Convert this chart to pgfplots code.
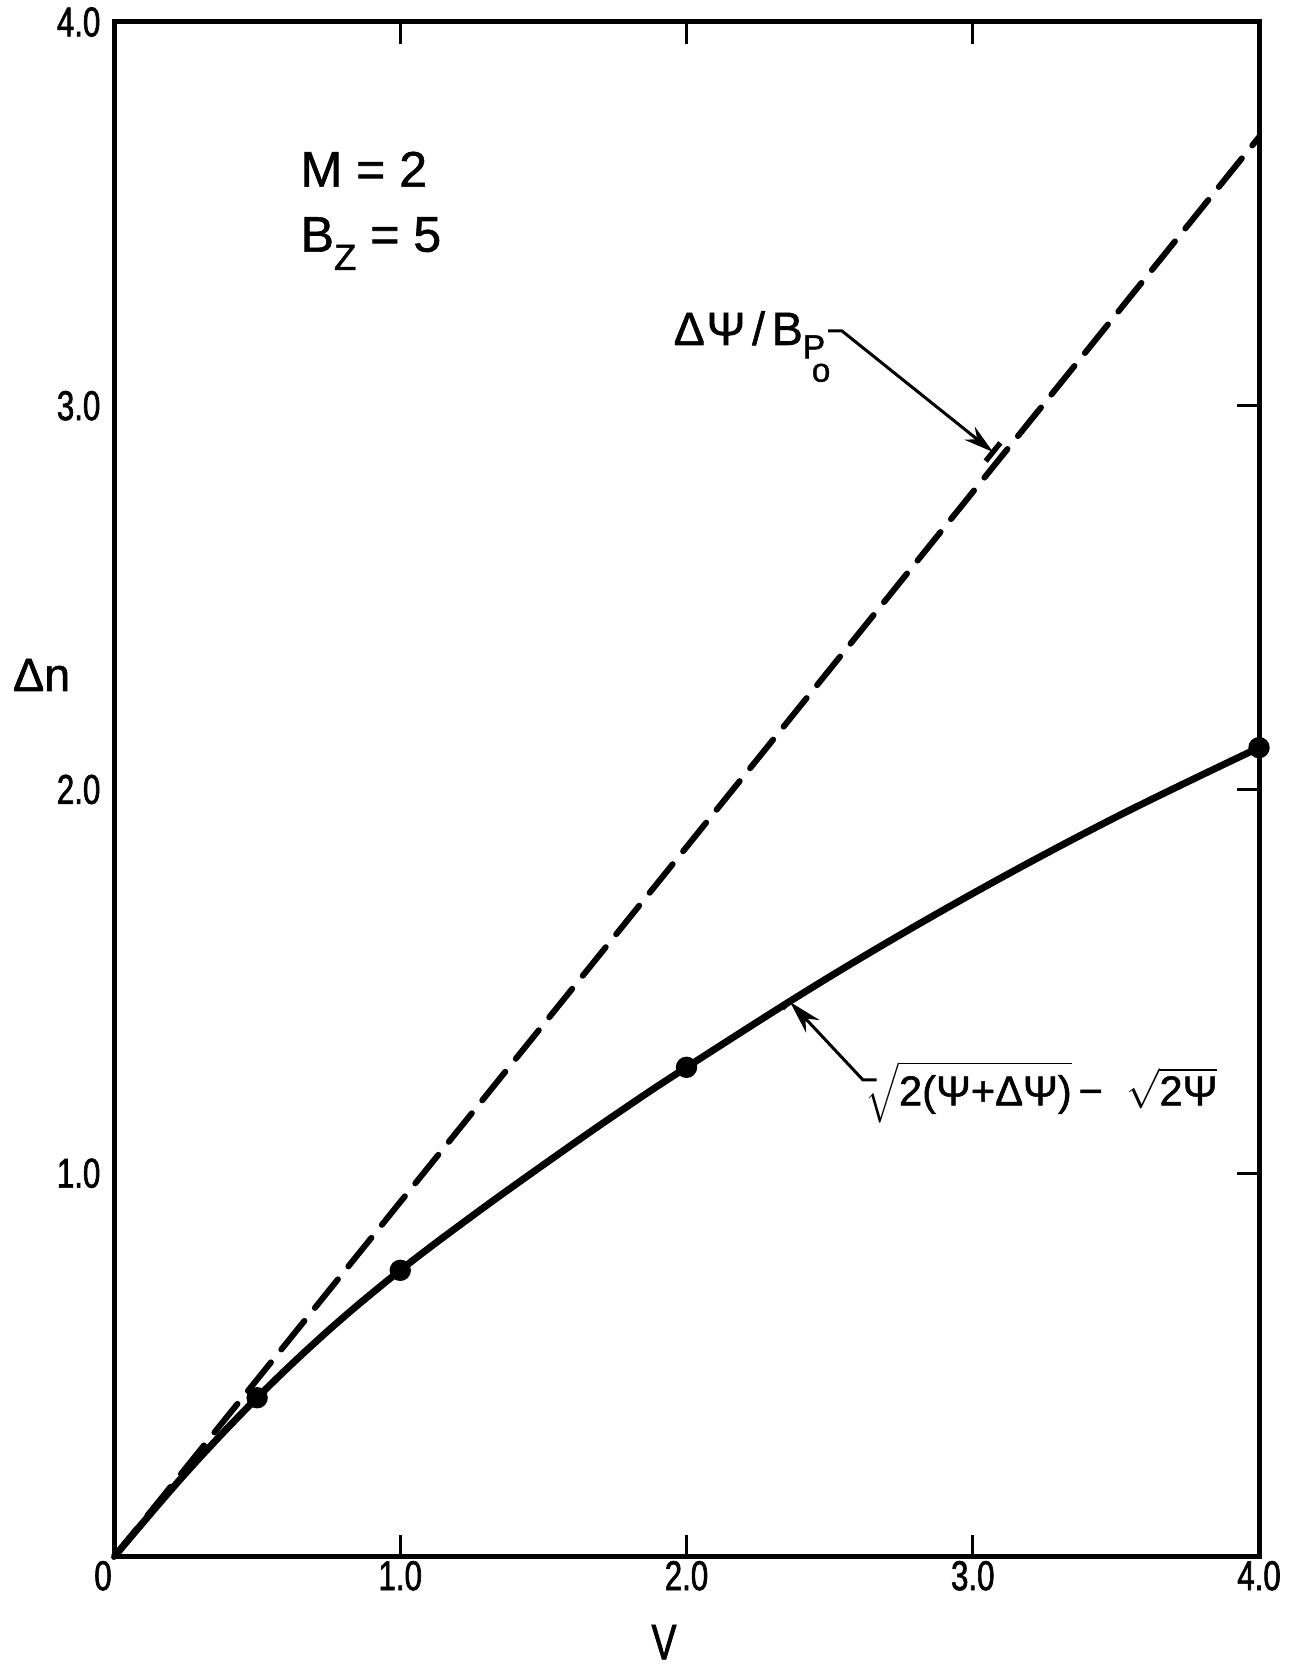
\documentclass[border=0pt]{standalone}
\usepackage{fontspec}
\setmainfont{Liberation Sans}[FakeBold=1.2]
\newfontfamily\narrowfont{Liberation Sans}[FakeStretch=0.75,FakeBold=1.5]
\usepackage{pgfplots}
\pgfplotsset{compat=1.18}
\usetikzlibrary{arrows.meta,calc}

\begin{document}
\begin{tikzpicture}[x=1pt,y=1pt]
\path[use as bounding box] (0,0) rectangle (390.9,500.1);
\begin{axis}[
  at={(34.2pt,33pt)}, anchor=south west,
  scale only axis, width=343.5pt, height=460.5pt,
  xmin=0, xmax=4, ymin=0, ymax=4,
  clip=false,
  axis line style={line width=1.5pt},
  tick align=inside,
  major tick length=6.5pt,
  tick style={line width=0.9pt, black},
  xtick={1,2,3,4}, xticklabels={1.0,2.0,3.0,4.0},
  ytick={1,2,3,4}, yticklabels={1.0,2.0,3.0,4.0},
  xtick pos=both, xticklabel pos=lower,
  ytick pos=right, yticklabel pos=left,
  extra x ticks={0}, extra x tick labels={0},
  extra x tick style={xticklabel style={xshift=-3.3pt}},
  ticklabel style={font=\narrowfont\fontsize{12.5}{12.5}\selectfont},
  xticklabel style={anchor=north, inner sep=0pt, yshift=-1pt},
  yticklabel style={anchor=east, inner sep=0pt, xshift=-3.9pt},
]
\addplot[black, line width=1.8pt, dash pattern=on 11pt off 5pt, line cap=round]
  coordinates {(0,0) (4,3.70)};
\addplot[black, line width=2.1pt, smooth, tension=0.6]
  coordinates {(0,0) (0.25,0.218) (0.5,0.415) (0.75,0.591) (1,0.747) (1.25,0.888)
               (1.5,1.022) (1.75,1.152) (2,1.276) (2.5,1.512) (3,1.729)
               (3.5,1.928) (4,2.109)};
\addplot[only marks, mark=*, mark size=3pt, black]
  coordinates {(0.5,0.415) (1,0.747) (2,1.276) (4,2.109)};
\end{axis}

% parameter box
\node[anchor=base west, inner sep=0pt, font=\fontsize{15}{15}\selectfont] at (90,444.1) {M = 2};
\node[anchor=base west, inner sep=0pt, font=\fontsize{15}{15}\selectfont] at (90,424.6)
  {B\raisebox{-5.5pt}{\fontsize{11}{11}\selectfont Z} = 5};

% upper annotation
\node[anchor=base west, inner sep=0pt] at (201.9,396.6)
  {{\fontsize{14}{14}\selectfont Δ\kern0.5ptΨ\kern2pt/\kern2ptB}\raisebox{-4pt}{\fontsize{10}{10}\selectfont P}\kern-4pt\raisebox{-11pt}{\fontsize{10}{10}\selectfont o}};
\draw[line width=0.9pt, -{Stealth[length=9pt,width=5pt]}] (248.4,400.8) -- (252.6,400.8) -- (297.9,364.5);
\draw[line width=1.6pt] ($(297.9,364.5)!3.5pt!90:(252.6,400.8)$) -- ($(297.9,364.5)!3.5pt!-90:(252.6,400.8)$);

% lower annotation
\node[anchor=base west, inner sep=0pt, font=\fontsize{12.5}{12.5}\selectfont] at (259.5,168.5)
  {$\sqrt{\mbox{2(Ψ+ΔΨ)}}$\,−\ \ $\sqrt{\mbox{2Ψ}}$};
\draw[line width=0.9pt, -{Stealth[length=10pt,width=5.5pt]}] (263,176.1) -- (258.9,176.1) -- (237,199.5);
\draw[line width=1.2pt] ($(237,199.5)!3pt!90:(258.9,176.1)$) -- ($(237,199.5)!3pt!-90:(258.9,176.1)$);

% axis labels
\node[anchor=base, inner sep=0pt, font=\fontsize{14}{14}\selectfont] at (12.5,292.8) {Δn};
\node[anchor=base, inner sep=0pt, font=\narrowfont\fontsize{15}{15}\selectfont] at (199.2,2.3) {V};
\end{tikzpicture}
\end{document}
